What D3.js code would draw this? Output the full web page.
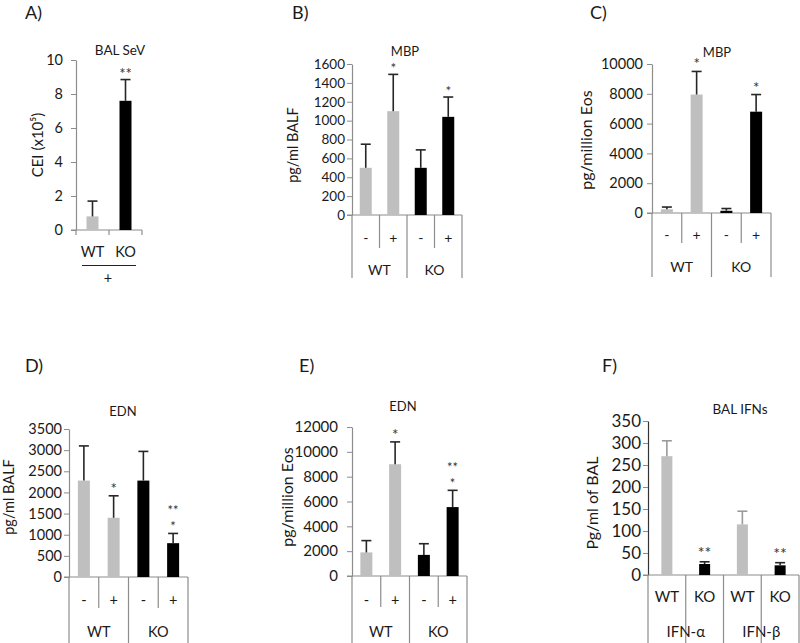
<!DOCTYPE html>
<html><head><meta charset="utf-8">
<script src="https://cdn.jsdelivr.net/npm/d3@7/dist/d3.min.js"></script>
<style>body{margin:0;background:#fff}svg{display:block}</style>
</head><body><svg id="c" width="800" height="643"></svg>
<script>
// ---------- DATA ----------
const aCats = ["WT", "KO"];
const aGeno = ["WT", "KO"];
const aVals = [0.8, 7.6];
const aErr = [0.9, 1.25];
const aSig = ["", "**"];
const aTicks = [0, 2, 4, 6, 8, 10];

const grpLabels = ["WT", "KO"];
const treatLabels = ["-", "+", "-", "+"];
const barGeno = ["WT", "WT", "KO", "KO"];

const bVals = [500, 1100, 500, 1040];
const bErr = [250, 390, 190, 210];
const bSig = ["", "*", "", "*"];
const bTicks = [0, 200, 400, 600, 800, 1000, 1200, 1400, 1600];

const cVals = [250, 7950, 150, 6800];
const cErr = [150, 1550, 150, 1150];
const cSig = ["", "*", "", "*"];
const cTicks = [0, 2000, 4000, 6000, 8000, 10000];

const dVals = [2280, 1400, 2280, 800];
const dErr = [820, 520, 690, 230];
const dSig = ["", "*", "", "**|*"];
const dTicks = [0, 500, 1000, 1500, 2000, 2500, 3000, 3500];

const eVals = [1900, 9000, 1700, 5550];
const eErr = [950, 1800, 900, 1350];
const eSig = ["", "*", "", "**|*"];
const eTicks = [0, 2000, 4000, 6000, 8000, 10000, 12000];

const fGroups = ["IFN-α", "IFN-β"];
const fCats = ["WT", "KO", "WT", "KO"];
const fVals = [270, 25, 115, 22];
const fErr = [35, 5, 30, 6];
const fSig = ["", "**", "", "**"];
const fTicks = [0, 50, 100, 150, 200, 250, 300, 350];

// ---------- RENDER ----------
const FONT = "Lato, 'Open Sans', sans-serif";
const GRAY = "#bfbfbf", BLACK = "#000", LINE = "#8c8c8c", INK = "#1a1a1a";
const svg = d3.select("#c");

function txt(g, x, y, s, fs, opts = {}) {
  const t = g.append("text").attr("x", x).attr("y", y).text(s)
    .attr("font-family", FONT).attr("font-size", fs).attr("fill", opts.fill || INK)
    .attr("text-anchor", opts.anchor || "middle");
  if (opts.rotate) t.attr("transform", `rotate(-90,${x},${y})`);
  return t;
}

function panel(cfg) {
  const g = svg.append("g");
  const y = d3.scaleLinear().domain([0, cfg.max]).range([cfg.y0, cfg.yTop]);
  const x = d3.scaleBand().domain(d3.range(cfg.vals.length)).range([cfg.x0, cfg.x1]);
  const ax = g.append("g").attr("transform", `translate(${cfg.x0},0)`)
    .call(d3.axisLeft(y).tickValues(cfg.ticks).tickSize(5).tickSizeOuter(0)
      .tickPadding(cfg.pad).tickFormat(d3.format("d")));
  ax.select(".domain").attr("stroke", cfg.axisColor || LINE).attr("stroke-width", 1.2);
  ax.selectAll(".tick line").attr("stroke", LINE);
  ax.selectAll(".tick text").attr("font-size", cfg.tickFs).attr("font-family", FONT).attr("fill", INK);
  g.append("line").attr("x1", cfg.x0 - 5).attr("x2", cfg.x1).attr("y1", cfg.y0).attr("y2", cfg.y0)
    .attr("stroke", LINE).attr("stroke-width", 1.2);
  cfg.vals.forEach((v, i) => {
    const cx = x(i) + x.bandwidth() / 2;
    const isWT = cfg.geno[i] === "WT";
    g.append("rect").attr("x", cx - cfg.barW / 2).attr("y", y(v)).attr("width", cfg.barW)
      .attr("height", y(0) - y(v)).attr("fill", isWT ? GRAY : BLACK);
    const top = y(v + cfg.err[i]);
    const ec = (cfg.grayErr && isWT) ? "#9a9a9a" : "#262626";
    g.append("line").attr("x1", cx).attr("x2", cx).attr("y1", y(v)).attr("y2", top)
      .attr("stroke", ec).attr("stroke-width", 1.6);
    g.append("line").attr("x1", cx - 5).attr("x2", cx + 5).attr("y1", top).attr("y2", top)
      .attr("stroke", ec).attr("stroke-width", 1.6);
    if (cfg.sig[i]) {
      const lines = cfg.sig[i].split("|");
      const base = top + (cfg.sigOff != null ? cfg.sigOff : -2);
      const fs = lines.length > 1 ? 13 : (cfg.sigFs || 15);
      lines.forEach((s, k) => {
        txt(g, cx, base - (lines.length - 1 - k) * 16, s, fs, { fill: "#333" });
      });
    }
  });
  txt(g, cfg.titleX, cfg.titleY, cfg.title, cfg.titleFs || 13);
  txt(g, cfg.ylabX, cfg.ylabY, cfg.ylab, cfg.ylabFs || 14.5, { rotate: true });
  txt(g, cfg.labX, cfg.labY, cfg.lab, 18, { anchor: "start" });
  return { g, x, y };
}

function table(p, cfg, row1, row2, shortB, longB, shortDiv) {
  const { g, x } = p;
  const n = cfg.vals.length;
  for (let i = 0; i <= n; i++) {
    const xx = i === n ? cfg.x1 : x(i);
    const isShort = shortDiv && (i % 2 === 1);
    g.append("line").attr("x1", xx).attr("x2", xx).attr("y1", cfg.y0)
      .attr("y2", isShort ? shortB : longB).attr("stroke", LINE).attr("stroke-width", 1.2);
  }
  row1.forEach((s, i) => {
    txt(g, x(i) + x.bandwidth() / 2, cfg.row1Y, s, cfg.rowFs || 14);
  });
  row2.forEach((s, j) => {
    txt(g, (x(2 * j) + x(2 * j + 1) + x.bandwidth()) / 2, cfg.row2Y, s, cfg.rowFs || 14);
  });
}

// Panel A
const cfgA = { x0: 76, x1: 142, y0: 230, yTop: 60, max: 10, ticks: aTicks, vals: aVals, err: aErr,
  sig: aSig, geno: aGeno, barW: 12, pad: 8, tickFs: 14.5, sigOff: -1,
  title: "BAL SeV", titleX: 120, titleY: 55, titleFs: 13.5, ylab: "CEI (x10\u2075)", ylabX: 43, ylabY: 145, ylabFs: 15,
  lab: "A)", labX: 25, labY: 19 };
const pA = panel(cfgA);
{
  const { g, x } = pA;
  [cfgA.x0, x(1), cfgA.x1].forEach(xx => g.append("line").attr("x1", xx).attr("x2", xx)
    .attr("y1", cfgA.y0).attr("y2", cfgA.y0 + 5).attr("stroke", LINE).attr("stroke-width", 1.2));
  aCats.forEach((s, i) => txt(g, x(i) + x.bandwidth() / 2, 257, s, 14.5));
  g.append("line").attr("x1", 82).attr("x2", 136).attr("y1", 265.5).attr("y2", 265.5)
    .attr("stroke", "#222").attr("stroke-width", 1.2);
  txt(g, 108, 283, "+", 14.5);
}

// Panel B
const cfgB = { x0: 352, x1: 462, y0: 215, yTop: 64, max: 1600, ticks: bTicks, vals: bVals, err: bErr,
  sig: bSig, geno: barGeno, barW: 12, pad: 2, tickFs: 13.5, sigFs: 13.5, sigOff: -1,
  title: "MBP", titleX: 405, titleY: 55.5, ylab: "pg/ml BALF", ylabX: 298, ylabY: 145,
  lab: "B)", labX: 292, labY: 19, row1Y: 243, row2Y: 275 };
const pB = panel(cfgB);
table(pB, cfgB, treatLabels, grpLabels, 248, 278, true);

// Panel C
const cfgC = { x0: 652, x1: 771, y0: 213, yTop: 64, max: 10000, ticks: cTicks, vals: cVals, err: cErr,
  sig: cSig, geno: barGeno, barW: 12, pad: 4, tickFs: 14.5,
  title: "MBP", titleX: 717, titleY: 57, ylab: "pg/million Eos", ylabX: 592, ylabY: 140, ylabFs: 16,
  lab: "C)", labX: 590, labY: 19, row1Y: 240, row2Y: 272 };
const pC = panel(cfgC);
table(pC, cfgC, treatLabels, grpLabels, 243, 277, true);

// Panel D
const cfgD = { x0: 69, x1: 188, y0: 577, yTop: 429, max: 3500, ticks: dTicks, vals: dVals, err: dErr,
  sig: dSig, geno: barGeno, barW: 12, pad: 2, tickFs: 14.5, sigOff: -2,
  title: "EDN", titleX: 123, titleY: 416, ylab: "pg/ml BALF", ylabX: 14, ylabY: 497,
  lab: "D)", labX: 25, labY: 372, row1Y: 605, row2Y: 637, rowFs: 14.5 };
const pD = panel(cfgD);
table(pD, cfgD, treatLabels, grpLabels, 608, 643, true);

// Panel E
const cfgE = { x0: 352, x1: 467, y0: 576, yTop: 427, max: 12000, ticks: eTicks, vals: eVals, err: eErr,
  sig: eSig, geno: barGeno, barW: 12, pad: 9, tickFs: 15, sigOff: -2,
  title: "EDN", titleX: 403, titleY: 411, ylab: "pg/million Eos", ylabX: 293, ylabY: 497, ylabFs: 16,
  lab: "E)", labX: 299, labY: 372, row1Y: 605, row2Y: 637, rowFs: 14.5 };
const pE = panel(cfgE);
table(pE, cfgE, treatLabels, grpLabels, 607, 643, true);

// Panel F
const cfgF = { x0: 648, x1: 799, y0: 575, yTop: 421, max: 350, ticks: fTicks, vals: fVals, err: fErr,
  sig: fSig, geno: fCats, barW: 11, pad: 2, tickFs: 17, axisColor: "#333", grayErr: true, sigFs: 16, sigOff: -4,
  title: "BAL IFNs", titleX: 740, titleY: 414, titleFs: 13.5, ylab: "Pg/ml of BAL", ylabX: 598, ylabY: 503, ylabFs: 16,
  lab: "F)", labX: 602, labY: 372, row1Y: 602, row2Y: 637, rowFs: 15 };
const pF = panel(cfgF);
table(pF, cfgF, fCats, fGroups, 643, 643, false);
</script></body></html>
